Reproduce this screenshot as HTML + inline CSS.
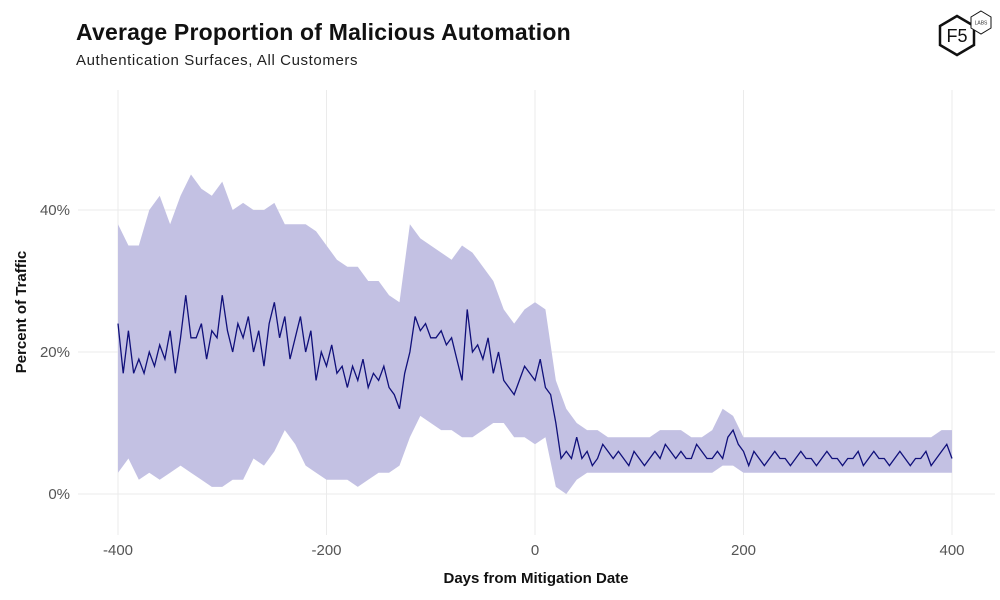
<!DOCTYPE html>
<html><head><meta charset="utf-8"><style>
body{margin:0;background:#fff;font-family:"Liberation Sans",sans-serif}
#c{position:relative;width:1000px;height:600px;overflow:hidden}
.t{position:absolute;white-space:nowrap}
</style></head><body>
<div id="c">
<div class="t" style="left:76px;top:19px;font-size:23px;font-weight:bold;color:#111;letter-spacing:0.2px">Average Proportion of Malicious Automation</div>
<div class="t" style="left:76px;top:52px;font-size:15px;color:#222;letter-spacing:0.6px">Authentication Surfaces, All Customers</div>
<svg width="1000" height="600" style="position:absolute;left:0;top:0" id="svg">
<g id="grid"></g><g id="marks"></g><g id="ticks"></g>
<g>
<polygon points="957,16 974,26 974,45 957,55 940,45 940,26" fill="#fff" stroke="#111" stroke-width="2.5"/>
<text x="957" y="42" font-size="18" text-anchor="middle" fill="#111" font-family="Liberation Sans">F5</text>
<polygon points="981,11 991,17 991,28 981,34 971,28 971,17" fill="#fff" stroke="#111" stroke-width="1"/>
<text x="981" y="24.5" font-size="5" text-anchor="middle" fill="#333" font-family="Liberation Sans">LABS</text>
</g>
<text x="536" y="583" font-size="15" font-weight="bold" text-anchor="middle" fill="#111">Days from Mitigation Date</text>
<text transform="translate(26,312) rotate(-90)" font-size="15" font-weight="bold" text-anchor="middle" fill="#111">Percent of Traffic</text>
</svg>
</div>
<script>
const xTicks=[-400,-200,0,200,400];
const yTicks=[0,20,40];
const bandDays=[];for(let d=-400;d<=400;d+=10)bandDays.push(d);
const lower=[3,5,2,3,2,3,4,3,2,1,1,2,2,5,4,6,9,7,4,3,2,2,2,1,2,3,3,4,8,11,10,9,9,8,8,9,10,10,8,8,7,8,1,0,2,3,3,3,3,3,3,3,3,3,3,3,3,3,4,4,3,3,3,3,3,3,3,3,3,3,3,3,3,3,3,3,3,3,3,3,3];
const upper=[38,35,35,40,42,38,42,45,43,42,44,40,41,40,40,41,38,38,38,37,35,33,32,32,30,30,28,27,38,36,35,34,33,35,34,32,30,26,24,26,27,26,16,12,10,9,9,8,8,8,8,8,9,9,9,8,8,9,12,11,8,8,8,8,8,8,8,8,8,8,8,8,8,8,8,8,8,8,8,9,9];
const meanDays=[];for(let d=-400;d<=400;d+=5)meanDays.push(d);
const mean=[24,17,23,17,19,17,20,18,21,19,23,17,22,28,22,22,24,19,23,22,28,23,20,24,22,25,20,23,18,24,27,22,25,19,22,25,20,23,16,20,18,21,17,18,15,18,16,19,15,17,16,18,15,14,12,17,20,25,23,24,22,22,23,21,22,19,16,26,20,21,19,22,17,20,16,15,14,16,18,17,16,19,15,14,10,5,6,5,8,5,6,4,5,7,6,5,6,5,4,6,5,4,5,6,5,7,6,5,6,5,5,7,6,5,5,6,5,8,9,7,6,4,6,5,4,5,6,5,5,4,5,6,5,5,4,5,6,5,5,4,5,5,6,4,5,6,5,5,4,5,6,5,4,5,5,6,4,5,6,7,5];
const X=d=>535+d*1.0425, Y=v=>494-v*7.1;
const ns="http://www.w3.org/2000/svg";
function mk(t,a,p){const e=document.createElementNS(ns,t);for(const k in a)e.setAttribute(k,a[k]);p.appendChild(e);return e;}
const grid=document.getElementById('grid'),marks=document.getElementById('marks'),ticks=document.getElementById('ticks');
xTicks.forEach(d=>{const l=mk('line',{x1:X(d),x2:X(d),y1:90,y2:535,stroke:'#ebebeb','stroke-width':1},grid);


const t=mk('text',{x:X(d),y:555,'font-size':15,'text-anchor':'middle',fill:'#555'},ticks);t.textContent=d;

});
yTicks.forEach(v=>{const l=mk('line',{x1:78,x2:995,y1:Y(v),y2:Y(v),stroke:'#ebebeb','stroke-width':1},grid);


const t=mk('text',{x:70,y:Y(v)+5,'font-size':15,'text-anchor':'end',fill:'#555'},ticks);t.textContent=v+'%';

});
let p='';bandDays.forEach((d,i)=>p+=(i?'L':'M')+X(d)+','+Y(upper[i]));
for(let i=bandDays.length-1;i>=0;i--)p+='L'+X(bandDays[i])+','+Y(lower[i]);
const band=mk('path',{d:p+'Z',fill:'#c3c1e3'},marks);


let q='';meanDays.forEach((d,i)=>q+=(i?'L':'M')+X(d)+','+Y(mean[i]));
const line=mk('path',{d:q,fill:'none',stroke:'#10107a','stroke-width':1.3},marks);


</script>
</body></html>
